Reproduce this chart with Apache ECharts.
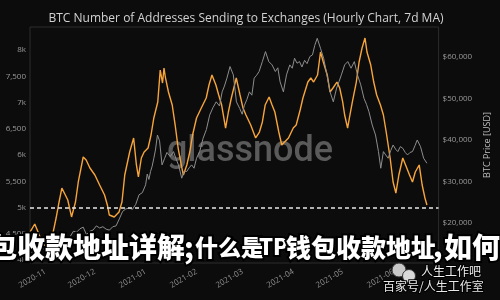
<!DOCTYPE html>
<html>
<head>
<meta charset="utf-8">
<script src="https://cdn.jsdelivr.net/npm/echarts@6.0.0/dist/echarts.min.js"></script>
<style>
html,body{margin:0;padding:0;background:#0c0c0c;}
#chart{width:500px;height:300px;}
</style>
</head>
<body>
<div id="chart"></div>
<script>
// ---------- data (days counted from 2020-11-01) ----------
const titleText = 'BTC Number of Addresses Sending to Exchanges (Hourly Chart, 7d MA)';
const monthTicks = ['2020-11-01','2020-12-01','2021-01-01','2021-02-01','2021-03-01','2021-04-01','2021-05-01','2021-06-01'];

const addrDays = [-9.4,-6.5,-3.5,0,2.4,4.7,6.5,8.3,10,11.8,
  13.6,15.9,18.3,20,23,24.8,27.1,30.1,33,36,
  37.7,38.9,41.9,44.8,46.6,48.3,51.3,53.7,55.4,56.6,
  58.4,60.1,62.5,64.3,66,68.4,69.9,71.3,72.2,73.1,
  74.9,77.2,79,80.8,83.1,84,86.1,87.9,89.6,92,
  94.9,97.9,99.6,101.4,103.8,105.5,107.3,109.7,111.4,113.2,
  116.2,118.5,120.3,122.1,125,128,130.3,132.1,133.8,136.2,
  138,139.7,142.1,143.9,145.6,148,150.9,152.7,155.1,156.8,
  159.8,161.6,163.3,165.7,167.5,169.2,171.6,173.3,175.1,177.5,
  179.2,181,182.2,184,185.1,186.9,189.3,191,192.8,194.6,
  195.8,198.1,199.9,201.7,204,205.8,207.5,209.9,211.7,213.4,
  215.2,217.6,219.3,221.7,223.5,225.2,227.6,229.4,231.1,232.3];
const addrValues = [4533,4686,4457,4248,4267,4533,4800,5105,5370,5257,
  5143,4820,5105,5486,5962,5905,5752,5619,5429,5238,
  5048,4857,4819,4914,5105,5619,6057,6324,5810,5581,
  5943,6057,6133,6381,6705,7010,7619,7371,7657,7467,
  7200,6952,6571,6133,5752,5619,5810,6057,6381,6705,
  6895,7086,7333,7524,7333,7143,6952,6514,6819,7086,
  7467,7143,6895,6762,6571,6324,6438,6629,6952,7105,
  6952,6819,6438,6190,6248,6324,6514,6571,6857,7086,
  7390,7467,7390,7524,7962,7771,7524,7200,7276,7390,
  7276,7010,6762,6514,6705,7010,7390,7771,8038,8229,
  7962,7714,7390,7143,6952,6762,6438,5943,5486,5276,
  5619,5943,5810,5619,5486,5676,5810,5429,5181,5048];

const priceDays = [-9.4,-7,-5,-3,-1,1,3,5,7,9,
  11,13,15,17,19,21,23,25,27,29,
  31,33,35,37,39,41,43,45,47,49,
  51,53,55,57,59,61,62,63,64,65,
  66,67,68.2,69.5,71,72.5,74,76,78,79.5,
  81,83,84.5,86,87.5,89,90.5,92,94,96,
  98,100,102,104,106,107.6,109,110.5,112.4,114.4,
  116.3,118.3,119.8,121.2,122.7,124.2,125.7,127.1,128.6,130.1,
  132.1,134,136,138,140,141.5,142.9,144.9,146.8,148.8,
  150.3,151.7,153.2,154.7,156.2,157.8,159.3,161,162.6,164,
  165.5,167.5,169.4,171.4,173.3,175.3,177.3,178.8,180.2,182.2,
  184.1,186.1,188.1,190,192,194,195.5,197,199,201,
  202.8,204.2,205.8,207.2,208.7,210.2,211.7,213.2,214.6,216.1,
  217.6,219.1,220.5,222,223.5,225,226.4,228.4,230.3,232.3];
const priceValues = [12900,13100,13600,13300,13800,13600,14100,15600,15300,15500,
  16200,16000,16700,18000,17800,18600,19000,17200,18000,18300,
  19300,18800,19100,18500,18300,19100,19300,21000,22800,23400,
  23600,23300,24500,26800,27300,29200,31800,30500,32400,33700,
  35600,37600,41200,39800,34000,35500,37000,36000,37200,35500,
  34000,30800,32500,32400,33300,34000,33200,35600,37300,40400,
  42500,46000,47800,49200,48200,51600,53000,54900,57700,55700,
  49200,47600,46200,48400,49800,51600,50800,54900,55600,56500,
  58900,61300,58900,58100,56500,57400,54000,51600,55700,58100,
  57300,59700,58500,58900,57600,59200,58400,60100,60500,62800,
  64500,62100,59700,55700,51600,49200,52500,54100,55700,58100,
  58900,57300,58900,55700,53300,50000,48600,46800,43600,41200,
  37200,33200,37200,36400,35600,37400,38800,37800,37200,38400,
  38000,37000,36400,37000,37200,38600,40000,38400,35600,34400];

const thresholdValue = 5000;

// ---------- build ----------
const T0 = Date.UTC(2020, 10, 1);
const DAY = 86400000;
const addrData = addrDays.map((d, i) => [T0 + d * DAY, addrValues[i]]);
const priceData = priceDays.map((d, i) => [T0 + d * DAY, priceValues[i]]);
const monthValues = monthTicks.map(s => Date.parse(s + 'T00:00:00Z'));

const chart = echarts.init(document.getElementById('chart'), null, {renderer: 'canvas'});

const overlayStyle = (text, x, size) => ({
  type: 'text', z: 200, x: x, y: 247,
  style: {
    text: text, fill: '#ffffff', stroke: '#000000', lineWidth: 4, strokeFirst: true,
    font: '900 ' + size + 'px "Noto Sans CJK SC"', textVerticalAlign: 'middle'
  }
});

chart.setOption({
  animation: false,
  backgroundColor: '#0c0c0c',
  title: {
    text: titleText, left: 241, top: 8, textAlign: 'center',
    textStyle: {color: '#d2d2d2', fontSize: 12, fontWeight: 'normal', fontFamily: 'Open Sans'}
  },
  grid: {left: 30, right: 48, top: 27, bottom: 37, show: true, borderColor: '#2c2c2c', borderWidth: 1, backgroundColor: 'transparent'},
  xAxis: {
    type: 'value',
    min: T0 - 9.4 * DAY, max: T0 + 239.4 * DAY,
    axisLine: {show: false}, axisTick: {show: false}, splitLine: {show: false},
    axisLabel: {
      customValues: monthValues,
      rotate: 30, fontSize: 8, color: '#8f8f8f', margin: 8, fontFamily: 'Open Sans',
      formatter: v => { const d = new Date(v); return d.getUTCFullYear() + '-' + String(d.getUTCMonth() + 1).padStart(2, '0'); }
    }
  },
  yAxis: [{
    type: 'value', position: 'left', min: 3943, max: 8438, splitNumber: 9,
    axisLine: {show: false}, axisTick: {show: false}, splitLine: {show: false},
    axisLabel: {
      fontSize: 8, color: '#9a9a9a', margin: 4, fontFamily: 'Open Sans',
      formatter: v => (v % 500 !== 0) ? '' : (v % 1000 === 0 ? (v / 1000) + 'k' : v.toLocaleString('en-US'))
    }
  }, {
    type: 'value', position: 'right', min: 10361, max: 67229, splitNumber: 5,
    name: 'BTC Price [USD]', nameLocation: 'middle', nameRotate: 90, nameGap: 32,
    nameTextStyle: {color: '#bdbdbd', fontSize: 9, fontFamily: 'Open Sans'},
    axisLine: {show: false}, axisTick: {show: false}, splitLine: {show: false},
    axisLabel: {
      fontSize: 8, color: '#9a9a9a', margin: 4, fontFamily: 'Open Sans',
      formatter: v => (v % 10000 !== 0) ? '' : '$' + v.toLocaleString('en-US')
    }
  }],
  series: [{
    type: 'line', name: 'Addresses', yAxisIndex: 0, data: addrData,
    showSymbol: false, z: 3,
    lineStyle: {color: '#f7a53b', width: 1.4},
    markLine: {
      silent: true, symbol: 'none', label: {show: false},
      lineStyle: {color: '#e6e6e6', type: [4, 3], width: 1.5},
      data: [{yAxis: thresholdValue}]
    }
  }, {
    type: 'line', name: 'BTC Price', yAxisIndex: 1, data: priceData,
    showSymbol: false, z: 4,
    lineStyle: {color: '#8d8d8d', width: 1}
  }],
  graphic: [
    {type: 'text', z: 1, x: 250, y: 152, silent: true,
      style: {text: 'glassnode', fill: '#5a5a5a', font: '500 36px Roboto', textAlign: 'center', textVerticalAlign: 'middle'}},
    overlayStyle('包收款地址详解', -11, 28),
    overlayStyle(';', 184, 28),
    overlayStyle('什么是', 195, 23),
    overlayStyle('TP', 259, 22),
    overlayStyle('钱包收款地址', 286, 25),
    overlayStyle(',', 433, 27),
    overlayStyle('如何', 444, 28),
    {type: 'circle', z: 210, shape: {cx: 399, cy: 270, r: 7}, style: {fill: '#c8c8c8', stroke: '#333', lineWidth: 1}},
    {type: 'circle', z: 211, shape: {cx: 409, cy: 276, r: 6.5}, style: {fill: '#d8d8d8', stroke: '#333', lineWidth: 1}},
    {type: 'text', z: 212, x: 421, y: 271,
      style: {text: '人生工作吧', fill: '#f2f2f2', stroke: '#000', lineWidth: 2, strokeFirst: true, font: '12px "Noto Sans CJK SC"', textVerticalAlign: 'middle'}},
    {type: 'text', z: 212, x: 383, y: 286,
      style: {text: '百家号/人生工作室', fill: '#e8e8e8', stroke: '#000', lineWidth: 2, strokeFirst: true, font: '12px "Noto Sans CJK SC"', textVerticalAlign: 'middle'}}
  ]
});
</script>
</body>
</html>
